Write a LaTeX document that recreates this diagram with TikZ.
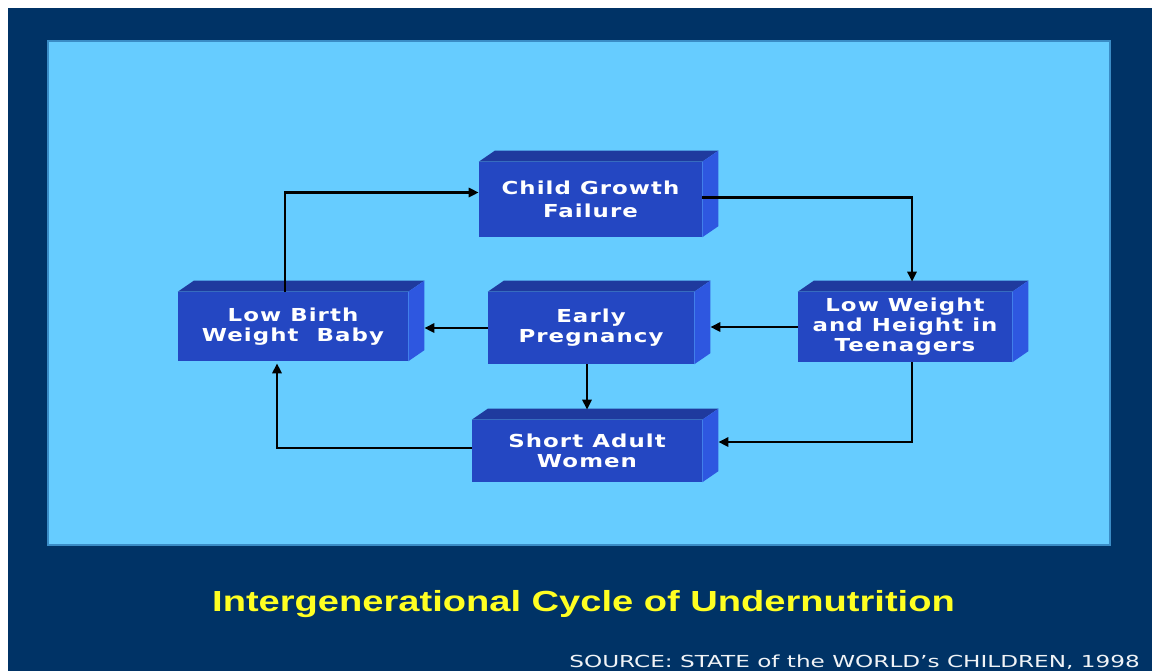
\documentclass[tikz,border=0pt]{standalone}
\usepackage{fontspec}
\usepackage{xcolor}
\usetikzlibrary{arrows.meta,calc}
\newfontfamily\boxfont[FakeStretch=1.28, LetterSpace=6]{DejaVu Sans}
\newfontfamily\titlefont[FakeStretch=1.31]{Liberation Sans}
\newfontfamily\srcfont[FakeStretch=1.4]{DejaVu Sans}
\definecolor{uNavy}{HTML}{003366}
\definecolor{uPanel}{HTML}{66CCFF}
\definecolor{uPanelEdge}{HTML}{3A8CC6}
\definecolor{uFront}{HTML}{2447C2}
\definecolor{uTop}{HTML}{1F3A9E}
\definecolor{uSide}{HTML}{2E57E0}
\definecolor{uTitle}{HTML}{FFFF22}
\newcommand{\px}{0.75pt}
\tikzset{
  prism/.style={fill=uFront, align=center, text=white, inner sep=2pt,
                font=\boxfont\bfseries\fontsize{13.4}{15}\selectfont},
  topface/.style={fill=uTop},
  sideface/.style={fill=uSide},
  flow/.style={-{Triangle[length=10*\px, width=9*\px]}, line width=2.6*\px, black},
  caption/.style={font=\titlefont\bfseries\fontsize{21.8}{26}\selectfont,
                  text=uTitle, inner sep=0pt},
  source/.style={font=\srcfont\fontsize{12.4}{15}\selectfont,
                 text=white!94!uNavy, inner sep=0pt},
}

\begin{document}
\begin{tikzpicture}[x=\px, y=-\px]
\useasboundingbox (0,0) rectangle (1152,671);

%% ── slide and panel ──────────────────────────────────────────────────────
\fill[uNavy] (8,8) rectangle (1152,671);
\filldraw[fill=uPanel, draw=uPanelEdge, line width=1.5*\px] (48,41) rectangle (1110,545);

%% ── the five stages ──────────────────────────────────────────────────────
\node[prism, minimum width=223*\px, minimum height=75*\px,
      font=\boxfont\bfseries\fontsize{13.4}{17}\selectfont] (child) at (590.5,199.5)
  {Child Growth\\Failure};
\node[prism, minimum width=230*\px, minimum height=69*\px] (lbw) at (293,326.5)
  {Low Birth\\Weight~~Baby};
\node[prism, minimum width=206*\px, minimum height=72*\px] (early) at (591,328)
  {Early\\Pregnancy};
\node[prism, minimum width=214*\px, minimum height=70*\px] (teen) at (905,327)
  {Low Weight\\and Height in\\Teenagers};
\node[prism, minimum width=230*\px, minimum height=62*\px] (short) at (587,451)
  {Short Adult\\Women};

% top and right faces give each box its depth
\foreach \n in {child,lbw,early,teen,short} {
  \fill[topface] (\n.north west) -- ([shift={(16,-11)}]\n.north west)
    -- ([shift={(16,-11)}]\n.north east) -- (\n.north east) -- cycle;
  \fill[sideface] (\n.north east) -- ([shift={(16,-11)}]\n.north east)
    -- ([shift={(16,-11)}]\n.south east) -- (\n.south east) -- cycle;
}

% where arrows meet the side and top faces
\coordinate (earlyR) at ([xshift=16*\px]early.east);
\coordinate (lbwR) at ([xshift=16*\px]lbw.east);
\coordinate (shortR) at ([xshift=16*\px, yshift=9*\px]short.east);

%% ── the cycle ────────────────────────────────────────────────────────────
\draw[flow] ([xshift=-8*\px]lbw.north) |- ([yshift=7*\px]child.west);
\draw[flow] ([yshift=2*\px]child.east) -| ([xshift=7*\px, yshift=10*\px]teen.north);
\draw[flow] (teen.west) -- (teen.west -| earlyR);
\draw[flow] (early.west) -- (early.west -| lbwR);
\draw[flow] (early.south -| short.north) -- ([yshift=10*\px]short.north);
\draw[flow] ([xshift=7*\px]teen.south) |- (shortR);
\draw[flow] ([yshift=3*\px]short.west) -| ([xshift=-16*\px, yshift=-2*\px]lbw.south);

%% ── captions ─────────────────────────────────────────────────────────────
\node[caption, anchor=base] (title) at (583.5,611)
  {Intergenerational Cycle of Undernutrition};
\node[source, anchor=base east] (src) at (1140,667)
  {SOURCE: STATE of the WORLD’s CHILDREN, 1998};

\end{tikzpicture}
\end{document}
